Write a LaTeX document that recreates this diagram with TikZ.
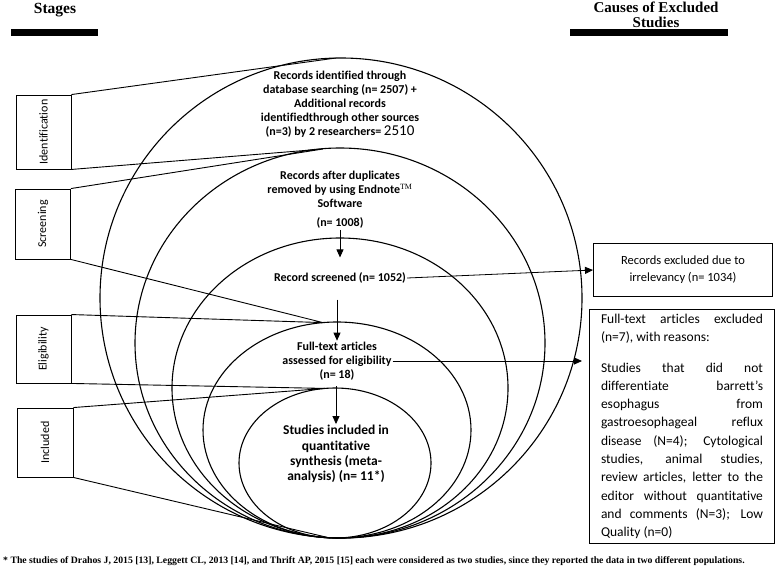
\documentclass[tikz,border=0pt]{standalone}
\usepackage{graphicx}
\usepackage{fontspec}
\setmainfont{Carlito}[Ligatures=NoCommon]
\newfontfamily\serif{Liberation Serif}
\usetikzlibrary{arrows.meta}

\begin{document}
\begin{tikzpicture}[x=1pt,y=-1pt,
    ring/.style={line width=1.1pt},
    stagebox/.style={draw,line width=0.9pt,minimum width=55pt,inner sep=0pt,font=\fontsize{12}{14}\selectfont},
    inner/.style={align=center,inner sep=1pt,font=\bfseries\fontsize{12}{14}\selectfont},
    reason/.style={draw,line width=1pt,anchor=north west,font=\fontsize{13.5}{18.3}\selectfont},
    flow/.style={-{Triangle[length=8pt,width=7pt]},line width=0.8pt},
    tie/.style={line width=0.9pt}]
  \useasboundingbox (0,0) rectangle (778,567);

  \node[font=\serif\bfseries\fontsize{15.5}{16}\selectfont] (stages) at (55,10) {Stages};
  \node[align=center,font=\serif\bfseries\fontsize{15}{15.5}\selectfont] (causes) at (656,15) {Causes of Excluded\\Studies};
  \fill (11,29) rectangle (98,36);
  \fill (570,29) rectangle (728,36);

  \draw[ring] (341,298) ellipse [x radius=241pt,y radius=240pt];
  \draw[ring] (340,343) ellipse [x radius=205pt,y radius=195pt];
  \draw[ring] (340,388) ellipse [x radius=168pt,y radius=150pt];
  \draw[ring] (337,430) ellipse [x radius=134pt,y radius=108pt];
  \draw[ring] (335,463) ellipse [x radius=96pt,y radius=75pt];
  \coordinate (top1) at (336,58);
  \coordinate (top2) at (323,149);
  \coordinate (top4) at (323,322.6);
  \coordinate (top5) at (325,388.4);
  \coordinate (bot) at (330,538);

  \node[stagebox,minimum height=74pt] (ident) at (43.5,132) {\rotatebox{90}{Identification}};
  \node[stagebox,minimum height=70pt] (screen) at (43,224) {\rotatebox{90}{Screening}};
  \node[stagebox,minimum height=68pt] (elig) at (43.5,349) {\rotatebox{90}{Eligibility}};
  \node[stagebox,minimum height=69pt,minimum width=56pt] (incl) at (45,442.5) {\rotatebox{90}{Included}};
  \draw[tie] (ident.north east) -- (top1) (ident.south east) -- (top2)
    (screen.north east) -- (top2) (screen.south east) -- (top4)
    (elig.north east) -- (top4) (elig.south east) -- (top5)
    (incl.north east) -- (top5) (incl.south east) -- (bot);

  \node[inner] (found) at (340,104) {Records identified through\\database searching (n= 2507) +\\Additional records\\identifiedthrough other sources\\(n=3) by 2 researchers= {\mdseries\fontsize{15}{14}\selectfont 2510}};
  \node[inner] (dedup) at (340,200) {Records after duplicates\\removed by using Endnote{\serif\mdseries\textsuperscript{TM}}\\Software\\[5pt](n= 1008)};
  \node[inner] (screened) at (340,278) {Record screened (n= 1052)};
  \node[inner] (full) at (337,361) {Full-text articles\\assessed for eligibility\\(n= 18)};
  \node[inner,font=\bfseries\fontsize{13.5}{15.3}\selectfont] (studies) at (336,454) {Studies included in\\quantitative\\synthesis (meta-\\analysis) (n= 11*)};

  \node[reason,minimum width=179pt,minimum height=53pt,align=center,font=\fontsize{12.5}{17}\selectfont] (rex) at (593,243) {Records excluded due to\\irrelevancy (n= 1034)};
  \node[reason,text width=162pt,inner xsep=11.5pt,minimum height=234pt,align=justify] (ftx) at (589,309) {Full-text articles excluded\linebreak (n=7), with reasons:\par\vspace{12pt}
    Studies that did not\linebreak differentiate barrett’s\linebreak esophagus from\linebreak gastroesophageal reflux\linebreak disease (N=4); Cytological\linebreak studies, animal studies,\linebreak review articles, letter to the\linebreak editor without quantitative\linebreak and comments (N=3); Low\linebreak Quality (n=0)};

  \draw[flow,shorten >=14pt] (dedup) -- (screened);
  \draw[flow,shorten <=15pt] (full.north |- screened.south) -- (full.north);
  \draw[flow,shorten <=5pt] (studies.north |- full.south) -- (studies.north);
  \draw[flow] (screened.east) -- (rex.west);
  \draw[flow,shorten >=7pt] (full.east) -- (full.east -| ftx.west);

  \node[anchor=west,inner sep=0pt,font=\serif\bfseries\fontsize{9.75}{10}\selectfont] (note) at (3,561) {* The studies of Drahos J, 2015 [13], Leggett CL, 2013 [14], and Thrift AP, 2015 [15] each were considered as two studies, since they reported the data in two different populations.};
\end{tikzpicture}
\end{document}
